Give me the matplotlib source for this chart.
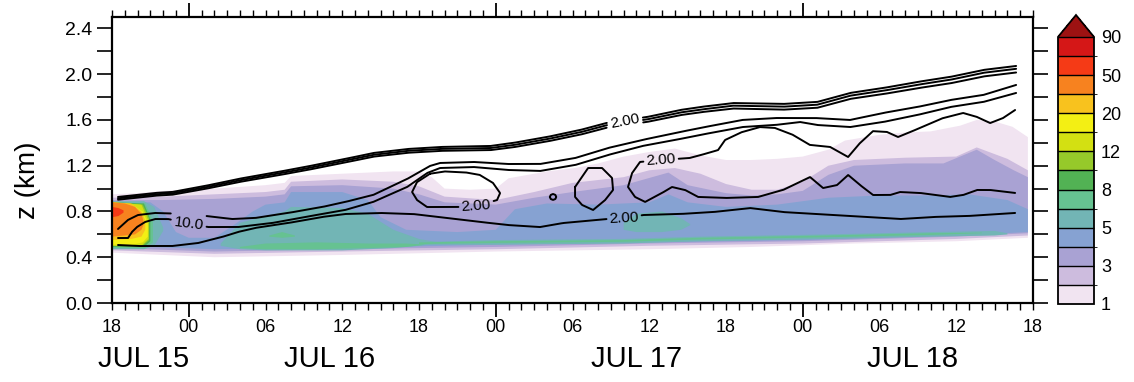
import numpy as np
import matplotlib
matplotlib.use("Agg")
import matplotlib.pyplot as plt
from matplotlib.colors import ListedColormap, BoundaryNorm
from matplotlib.cm import ScalarMappable
from matplotlib.ticker import FixedLocator, MultipleLocator, FuncFormatter
from matplotlib.transforms import blended_transform_factory

plt.rcParams["font.family"] = ["Liberation Sans", "DejaVu Sans"]

# ---------------------------------------------------------------------------
# Time axis: hours since 18 UTC 15 July
# ---------------------------------------------------------------------------
hour_ticks = [0, 6, 12, 18, 24, 30, 36, 42, 48, 54, 60, 66, 72]
hour_text = ["18", "00", "06", "12", "18", "00", "06", "12", "18", "00", "06", "12", "18"]
midnight_hours = [6, 30, 54]
day_text = ["JUL 15", "JUL 16", "JUL 17", "JUL 18"]
day_text_hour = [2.5, 17.0, 41.0, 62.6]

# Shading levels and colours
levels = [1, 2, 3, 4, 5, 6, 8, 10, 12, 15, 20, 30, 50, 70, 90]
level_colors = ["#f1e4f1", "#cdbcde", "#a9a2d3", "#86a2d2", "#72b5b5", "#66c291",
                "#52b254", "#96c92a", "#d3e012", "#f3ef14", "#f8c21e", "#f7821f",
                "#f53a16", "#d51717"]
over_color = "#9d1212"
cbar_labels = [1, 3, 5, 8, 12, 20, 50, 90]

# ---------------------------------------------------------------------------
# Shaded field: each region given by its upper and lower boundary (hour, km)
# ---------------------------------------------------------------------------
c1_top_t = [0, 2, 4, 8, 12, 13.5, 14, 18, 22, 24, 25, 26, 28, 30, 31, 34, 36.2, 38, 40,
            42, 44, 46, 48, 50, 52, 54, 56, 57.3, 60, 62, 64, 66.3, 67.6, 68.9, 70.4, 71.6]
c1_top_z = [0.95, 0.96, 0.98, 1.00, 1.03, 1.05, 1.11, 1.13, 1.15, 1.15, 1.10, 1.00, 0.99,
            1.00, 1.09, 1.15, 1.18, 1.22, 1.28, 1.32, 1.35, 1.29, 1.25, 1.25, 1.26, 1.28,
            1.34, 1.42, 1.47, 1.49, 1.50, 1.55, 1.60, 1.59, 1.54, 1.45]
c1_bot_t = [0, 8, 18, 30, 42, 50, 58, 66, 71.6]
c1_bot_z = [0.44, 0.40, 0.42, 0.45, 0.47, 0.49, 0.52, 0.54, 0.57]

c2_top_t = [0, 4, 8, 12, 13.5, 14, 18, 22, 24, 26, 30, 33, 36, 40, 42, 44, 46, 48, 50,
            52, 54, 56, 58, 62, 66, 67.6, 70, 71.6]
c2_top_z = [0.92, 0.93, 0.95, 0.97, 0.99, 1.06, 1.08, 1.06, 1.02, 0.93, 0.90, 0.97, 1.05,
            1.10, 1.16, 1.18, 1.13, 1.04, 0.99, 0.99, 1.06, 1.20, 1.25, 1.27, 1.28, 1.36,
            1.26, 1.16]
c2_bot_t = [0, 8, 18, 30, 42, 54, 66, 71.6]
c2_bot_z = [0.46, 0.43, 0.45, 0.47, 0.50, 0.52, 0.56, 0.59]

c3_top_t = [0, 4, 8, 12, 13.5, 14, 18, 22, 24, 26, 30, 33, 36, 40, 43.5, 45, 48, 50, 52,
            54, 56, 58, 62, 65, 67.6, 69, 70.5, 71.6]
c3_top_z = [0.90, 0.90, 0.91, 0.93, 0.95, 1.02, 1.03, 1.00, 0.95, 0.88, 0.86, 0.92, 0.97,
            1.03, 1.14, 1.03, 0.96, 0.94, 0.95, 0.98, 1.12, 1.20, 1.22, 1.22, 1.34, 1.25,
            1.16, 1.10]
c3_bot_t = [0, 8, 18, 30, 42, 54, 66, 71.6]
c3_bot_z = [0.48, 0.45, 0.47, 0.49, 0.52, 0.54, 0.58, 0.61]

c4_top_t = [0, 3, 4, 5, 6, 8, 9.5, 11, 12, 13.5, 14, 18, 20, 21, 23, 27, 30, 31.5, 34,
            38, 42, 43.5, 45, 48, 52, 56, 60, 64, 67, 70, 71.6]
c4_top_z = [0.88, 0.88, 0.80, 0.62, 0.57, 0.57, 0.68, 0.80, 0.86, 0.88, 0.97, 0.97, 0.90,
            0.75, 0.64, 0.62, 0.64, 0.82, 0.87, 0.86, 0.88, 0.95, 0.88, 0.84, 0.86, 0.92,
            0.94, 0.94, 0.95, 0.90, 0.82]
c4_bot_t = [0, 8, 18, 30, 42, 54, 66, 71.6]
c4_bot_z = [0.50, 0.47, 0.48, 0.51, 0.53, 0.55, 0.59, 0.62]

c5a_t = [0, 2.5, 3.3, 4.0]
c5a_top = [0.89, 0.89, 0.84, 0.66]
c5a_bot = [0.47, 0.47, 0.50, 0.63]
c5b_t = [8.5, 10, 12, 13.5, 14, 18, 20, 22, 24, 25.5]
c5b_top = [0.52, 0.70, 0.76, 0.80, 0.84, 0.83, 0.78, 0.64, 0.56, 0.53]
c5b_bot = [0.50, 0.47, 0.46, 0.46, 0.46, 0.46, 0.47, 0.48, 0.50, 0.52]
c5c_t = [23, 30, 40, 46, 56, 64, 69, 70]
c5c_top = [0.53, 0.55, 0.56, 0.58, 0.60, 0.62, 0.63, 0.61]
c5c_bot = [0.51, 0.51, 0.52, 0.54, 0.56, 0.58, 0.59, 0.60]
c5d_t = [40, 41, 43, 44.5, 45.2]
c5d_top = [0.70, 0.78, 0.80, 0.74, 0.69]
c5d_bot = [0.64, 0.62, 0.62, 0.64, 0.68]

c6a_t = [0, 2.6, 3.2]
c6a_top = [0.88, 0.87, 0.72]
c6a_bot = [0.48, 0.48, 0.53]
c6b_t = [10, 12, 16, 20, 23, 24.5]
c6b_top = [0.49, 0.52, 0.53, 0.52, 0.52, 0.51]
c6b_bot = [0.48, 0.47, 0.47, 0.48, 0.49, 0.51]
c6c_t = [12.3, 13.3, 14.3]
c6c_top = [0.59, 0.62, 0.59]
c6c_bot = [0.58, 0.57, 0.58]
c6d_t = [24, 30, 40, 46, 56, 64, 68]
c6d_top = [0.53, 0.54, 0.55, 0.57, 0.59, 0.61, 0.615]
c6d_bot = [0.515, 0.525, 0.535, 0.555, 0.575, 0.595, 0.61]

c8_t = [0, 2.5, 3.0]
c8_top = [0.88, 0.87, 0.73]
c8_bot = [0.49, 0.49, 0.54]
c10_t = [0, 2.4, 2.9]
c10_top = [0.88, 0.86, 0.74]
c10_bot = [0.50, 0.50, 0.55]
c12_t = [0, 2.3, 2.85]
c12_top = [0.88, 0.86, 0.72]
c12_bot = [0.50, 0.50, 0.56]
c15_t = [0, 1.6, 2.4, 2.8]
c15_top = [0.87, 0.86, 0.80, 0.70]
c15_bot = [0.51, 0.51, 0.53, 0.58]
c20_t = [0, 1.5, 2.3, 2.6]
c20_top = [0.88, 0.87, 0.80, 0.72]
c20_bot = [0.55, 0.56, 0.58, 0.64]
c30_t = [0, 1.0, 1.8, 2.3, 2.45]
c30_top = [0.88, 0.87, 0.84, 0.78, 0.72]
c30_bot = [0.58, 0.59, 0.60, 0.64, 0.68]
c50_t = [0, 0.5, 0.9]
c50_top = [0.84, 0.83, 0.81]
c50_bot = [0.75, 0.76, 0.79]

# ---------------------------------------------------------------------------
# Contour lines (hour, km)
# ---------------------------------------------------------------------------
cap_t = [0.47, 3.36, 4.69, 7.27, 9.85, 12.51, 15.09, 18.22, 20.41, 23.07, 25.65, 29.55,
         31.35, 34.01, 36.59, 38.94, 41.83, 44.41, 45.97, 48.55, 52.46, 55.12, 57.70,
         60.28, 62.94, 65.52, 68.10, 70.68]
cap1_z = [0.927, 0.962, 0.970, 1.023, 1.084, 1.136, 1.189, 1.259, 1.311, 1.346, 1.364,
          1.372, 1.399, 1.451, 1.512, 1.582, 1.626, 1.687, 1.713, 1.748, 1.740, 1.757,
          1.836, 1.879, 1.932, 1.976, 2.037, 2.072]
cap2_z = [0.915, 0.950, 0.958, 1.010, 1.070, 1.122, 1.174, 1.244, 1.295, 1.330, 1.347,
          1.354, 1.380, 1.432, 1.492, 1.562, 1.605, 1.665, 1.690, 1.725, 1.716, 1.733,
          1.812, 1.855, 1.907, 1.951, 2.012, 2.047]
cap3_z = [0.903, 0.938, 0.946, 0.997, 1.056, 1.107, 1.159, 1.228, 1.279, 1.313, 1.330,
          1.336, 1.361, 1.412, 1.471, 1.540, 1.583, 1.642, 1.667, 1.700, 1.690, 1.706,
          1.784, 1.826, 1.877, 1.920, 1.980, 2.015]

upper_t = [0.47, 1.25, 2.03, 3.36, 5.94, 8.05, 9.38, 11.18, 13.76, 16.42, 18.22, 20.41,
           23.07, 24.86, 25.65, 28.23, 30.88, 33.46, 36.20, 38.78, 41.44, 44.02, 45.97,
           49.26, 51.84, 54.96, 57.70, 60.28, 62.94, 65.52, 68.10, 70.68]
upper_z = [0.647, 0.726, 0.769, 0.787, 0.778, 0.752, 0.734, 0.743, 0.787, 0.839, 0.883,
           0.944, 1.084, 1.198, 1.224, 1.233, 1.215, 1.215, 1.267, 1.355, 1.425, 1.486,
           1.530, 1.600, 1.617, 1.617, 1.600, 1.661, 1.713, 1.774, 1.818, 1.906]

middle_t = [0.47, 1.25, 1.56, 1.95, 2.58, 3.36, 4.38, 5.94, 7.51, 9.85, 12.51, 15.09,
            18.22, 20.41, 23.07, 24.63, 25.65, 28.23, 30.88, 33.46, 36.20, 38.78, 41.44,
            44.02, 45.97, 49.26, 51.84, 53.79, 55.12, 57.70, 60.28, 62.94, 65.52, 68.10,
            70.68]
middle_z = [0.568, 0.568, 0.621, 0.664, 0.708, 0.734, 0.734, 0.699, 0.664, 0.664, 0.699,
            0.752, 0.813, 0.883, 1.014, 1.136, 1.180, 1.189, 1.163, 1.154, 1.206, 1.294,
            1.372, 1.425, 1.469, 1.538, 1.556, 1.582, 1.556, 1.538, 1.582, 1.643, 1.713,
            1.757, 1.836]

lower_t = [0.47, 2.03, 4.69, 6.72, 8.60, 9.85, 11.18, 13.76, 16.42, 18.22, 20.95, 23.53,
           27.44, 30.88, 33.46, 35.26, 38.70, 40.03, 41.52, 44.41, 46.99, 49.88, 52.46,
           56.37, 59.03, 61.61, 64.19, 66.85, 70.60]
lower_z = [0.507, 0.498, 0.498, 0.524, 0.577, 0.621, 0.656, 0.699, 0.752, 0.778, 0.787,
           0.778, 0.726, 0.682, 0.664, 0.699, 0.734, 0.738, 0.769, 0.778, 0.795, 0.830,
           0.795, 0.769, 0.752, 0.734, 0.752, 0.760, 0.787]

loop_t = [24.86, 23.85, 23.46, 23.85, 24.63, 26.97, 28.46, 30.10, 30.34, 29.79, 28.77,
          27.76, 26.04, 24.86]
loop_z = [1.13, 1.058, 0.970, 0.900, 0.839, 0.839, 0.848, 0.900, 0.961, 1.049, 1.119,
          1.14, 1.15, 1.13]

ring_t = [36.20, 37.22, 38.31, 39.09, 39.17, 38.55, 37.61, 36.75, 36.20, 36.20]
ring_z = [1.014, 1.180, 1.180, 1.093, 0.988, 0.900, 0.813, 0.857, 0.927, 1.014]

dot_t = [34.23, 34.30, 34.48, 34.66, 34.73, 34.66, 34.48, 34.30, 34.23]
dot_z = [0.927, 0.945, 0.953, 0.945, 0.927, 0.909, 0.901, 0.909, 0.927]

fold_t = [70.60, 69.66, 68.65, 67.63, 66.54, 64.97, 63.17, 61.45, 60.59, 59.50, 58.48,
          57.55, 56.14, 54.57, 53.25, 51.84, 50.66, 49.26, 47.93, 47.38, 46.60, 45.19,
          42.92, 41.28, 40.66, 40.34, 40.89, 41.67, 43.00, 43.78, 44.80, 45.82, 47.93,
          50.51, 52.46, 54.57, 55.59, 56.68, 57.55, 58.48, 59.50, 60.83, 61.61, 63.17,
          65.52, 66.54, 67.63, 68.65, 70.60]
fold_z = [1.687, 1.617, 1.573, 1.626, 1.661, 1.617, 1.530, 1.451, 1.495, 1.503, 1.399,
          1.276, 1.364, 1.381, 1.469, 1.530, 1.538, 1.495, 1.425, 1.337, 1.311, 1.268,
          1.250, 1.233, 1.136, 1.014, 0.927, 0.883, 0.962, 1.014, 0.988, 0.927, 0.918,
          0.927, 0.988, 1.101, 1.005, 1.031, 1.119, 1.031, 0.944, 0.944, 0.970, 0.962,
          0.927, 0.944, 0.988, 0.988, 0.962]

# Line labels: text, hour, height, rotation
label_text = ["2.00", "2.00", "2.00", "2.00", "10.0"]
label_t = [40.1, 28.46, 40.03, 42.92, 6.0]
label_z = [1.59, 0.848, 0.738, 1.25, 0.695]
label_rot = [11, 4, 3, 4, -7]

# ---------------------------------------------------------------------------
fig = plt.figure(figsize=(11.34, 3.82), dpi=100)
ax = fig.add_axes([112 / 1134, 79 / 382, 921 / 1134, 286 / 382])
ax.set_xlim(0, 72)
ax.set_ylim(0, 2.5)

cmap = ListedColormap(level_colors)
cmap.set_over(over_color)
norm = BoundaryNorm(levels, cmap.N)

regions = [
    (1, c1_top_t, c1_top_z, c1_bot_t, c1_bot_z),
    (2, c2_top_t, c2_top_z, c2_bot_t, c2_bot_z),
    (3, c3_top_t, c3_top_z, c3_bot_t, c3_bot_z),
    (4, c4_top_t, c4_top_z, c4_bot_t, c4_bot_z),
    (5, c5a_t, c5a_top, c5a_t, c5a_bot),
    (5, c5b_t, c5b_top, c5b_t, c5b_bot),
    (5, c5c_t, c5c_top, c5c_t, c5c_bot),
    (5, c5d_t, c5d_top, c5d_t, c5d_bot),
    (6, c6a_t, c6a_top, c6a_t, c6a_bot),
    (6, c6b_t, c6b_top, c6b_t, c6b_bot),
    (6, c6c_t, c6c_top, c6c_t, c6c_bot),
    (6, c6d_t, c6d_top, c6d_t, c6d_bot),
    (8, c8_t, c8_top, c8_t, c8_bot),
    (10, c10_t, c10_top, c10_t, c10_bot),
    (12, c12_t, c12_top, c12_t, c12_bot),
    (15, c15_t, c15_top, c15_t, c15_bot),
    (20, c20_t, c20_top, c20_t, c20_bot),
    (30, c30_t, c30_top, c30_t, c30_bot),
    (50, c50_t, c50_top, c50_t, c50_bot),
]
for value, tt, zt, tb, zb in regions:
    poly_t = np.r_[tt, np.asarray(tb)[::-1]]
    poly_z = np.r_[zt, np.asarray(zb)[::-1]]
    ax.fill(poly_t, poly_z, color=cmap(norm(value)), lw=0, zorder=1)

# labels first, so the lines can be broken around them
label_artists = []
for s, t, z, r in zip(label_text, label_t, label_z, label_rot):
    label_artists.append(ax.text(t, z, s, fontsize=11, ha="center", va="center",
                                 rotation=r, rotation_mode="anchor", zorder=4))

fig.canvas.draw()
renderer = fig.canvas.get_renderer()
boxes = [a.get_window_extent(renderer) for a in label_artists]


def broken_line(t, z, pad=2.0):
    t = np.asarray(t, float)
    z = np.asarray(z, float)
    pts = ax.transData.transform(np.column_stack([t, z]))
    s = np.r_[0, np.cumsum(np.hypot(*np.diff(pts, axis=0).T))]
    s_new = np.r_[np.arange(0, s[-1], 0.5), s[-1]]
    tn = np.interp(s_new, s, t)
    zn = np.interp(s_new, s, z)
    pn = ax.transData.transform(np.column_stack([tn, zn]))
    hide = np.zeros(len(tn), bool)
    for b in boxes:
        hide |= ((pn[:, 0] > b.x0 - pad) & (pn[:, 0] < b.x1 + pad) &
                 (pn[:, 1] > b.y0 - pad) & (pn[:, 1] < b.y1 + pad))
    zn[hide] = np.nan
    return tn, zn


for tt, zz in [(cap_t, cap1_z), (cap_t, cap2_z), (cap_t, cap3_z),
               (upper_t, upper_z), (middle_t, middle_z), (lower_t, lower_z),
               (loop_t, loop_z), (ring_t, ring_z), (dot_t, dot_z), (fold_t, fold_z)]:
    tn, zn = broken_line(tt, zz)
    ax.plot(tn, zn, color="black", lw=1.4, zorder=3, solid_capstyle="round")

# ---------------------------------------------------------------------------
# Axes decoration
# ---------------------------------------------------------------------------
for sp in ax.spines.values():
    sp.set_linewidth(1.6)

ax.xaxis.set_major_locator(FixedLocator(midnight_hours))
ax.xaxis.set_minor_locator(MultipleLocator(1))
hour_lookup = dict(zip(hour_ticks, hour_text))
fmt = FuncFormatter(lambda v, p: hour_lookup.get(int(round(v)), "")
                    if abs(v - round(v)) < 1e-6 else "")
ax.xaxis.set_major_formatter(fmt)
ax.xaxis.set_minor_formatter(fmt)
ax.tick_params(axis="x", which="major", direction="out", length=10, width=1.3,
               top=True, labelsize=13, pad=1.5)
ax.tick_params(axis="x", which="minor", direction="out", length=5, width=1.0,
               top=True, labelsize=13, pad=6.5)

ax.yaxis.set_major_locator(MultipleLocator(0.4))
ax.yaxis.set_minor_locator(MultipleLocator(0.2))
ax.yaxis.set_major_formatter(FuncFormatter(lambda v, p: f"{v:.1f}"))
ax.tick_params(axis="y", which="both", direction="out", length=11, width=1.2,
               right=True, labelsize=14, pad=3)

trans = blended_transform_factory(ax.transData, ax.transAxes)
for s, t in zip(day_text, day_text_hour):
    ax.text(t, -0.195, s, transform=trans, fontsize=21, ha="center", va="center")

fig.text(28 / 1134, 1 - 180 / 382, "z (km)", rotation=90, fontsize=20,
         ha="center", va="center")

# colour bar
cax = fig.add_axes([1058 / 1134, 78 / 382, 36 / 1134, 289 / 382])
sm = ScalarMappable(norm=norm, cmap=cmap)
cb = fig.colorbar(sm, cax=cax, extend="max", extendfrac=0.082, drawedges=True,
                  ticks=cbar_labels)
cb.ax.set_yticklabels([str(v) for v in cbar_labels])
cb.ax.tick_params(length=0, labelsize=13, pad=5)
cb.outline.set_linewidth(1.3)
cb.dividers.set_linewidth(1.0)

fig.savefig("out.png", dpi=100)
